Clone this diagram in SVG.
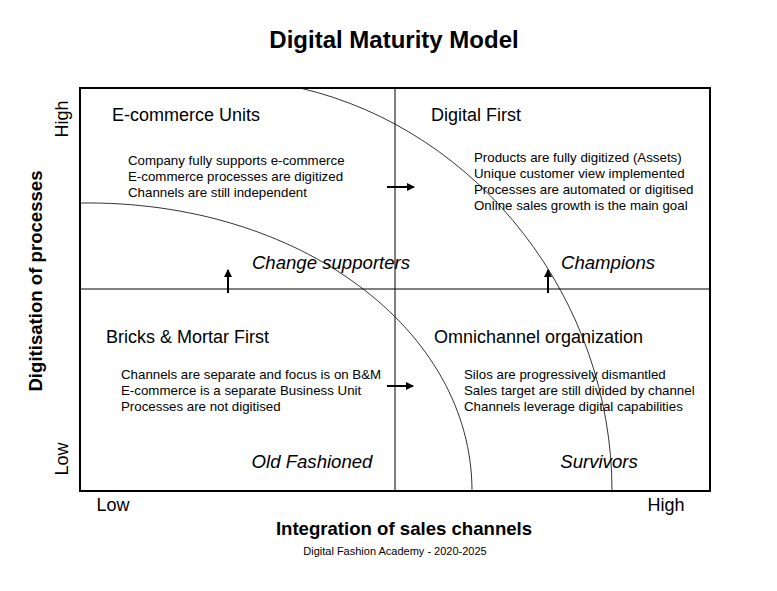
<svg xmlns="http://www.w3.org/2000/svg" width="777" height="591" viewBox="0 0 777 591">
<style>
text{font-family:"Liberation Sans",Arial,sans-serif;fill:#000}
.t{font-size:18px}.b{font-size:13.3px}.i{font-size:18.6px;font-style:italic}
.ln{stroke:#000;fill:none}
</style>
<defs><marker id="a" markerWidth="8" markerHeight="8" refX="7" refY="4" orient="auto" markerUnits="userSpaceOnUse"><path d="M0,0 L8,4 L0,8 Z"/></marker></defs>
<rect width="777" height="591" fill="#fff"/>
<text x="394" y="48" text-anchor="middle" font-size="24" font-weight="bold">Digital Maturity Model</text>
<g id="frame"><rect x="80" y="88" width="630" height="403" class="ln" stroke-width="2"/>
<line x1="395" y1="88" x2="395" y2="491" class="ln"/><line x1="80" y1="289" x2="710" y2="289" class="ln"/></g>
<g id="connectors">
<path d="M300,88 C480,130 612,300 612,491" class="ln" stroke-width="0.8"/>
<path d="M80,203 C300,200 472,330 472,491" class="ln" stroke-width="0.8"/>
<line x1="387" y1="187" x2="414" y2="187" class="ln" stroke-width="2" marker-end="url(#a)"/>
<line x1="387" y1="386" x2="413" y2="386" class="ln" stroke-width="2" marker-end="url(#a)"/>
<line x1="228" y1="293" x2="228" y2="270" class="ln" stroke-width="2" marker-end="url(#a)"/>
<line x1="548" y1="293" x2="548" y2="270" class="ln" stroke-width="2" marker-end="url(#a)"/>
</g>
<g id="ecommerce"><text x="112" y="121" class="t">E-commerce Units</text>
<text x="128" y="165" class="b">Company fully supports e-commerce</text>
<text x="128" y="181" class="b">E-commerce processes are digitized</text>
<text x="128" y="197" class="b">Channels are still independent</text>
<text x="331" y="269" class="i" text-anchor="middle">Change supporters</text></g>
<g id="digital"><text x="431" y="121" class="t">Digital First</text>
<text x="474" y="162" class="b">Products are fully digitized (Assets)</text>
<text x="474" y="178" class="b">Unique customer view implemented</text>
<text x="474" y="194" class="b">Processes are automated or digitised</text>
<text x="474" y="210" class="b">Online sales growth is the main goal</text>
<text x="608" y="269" class="i" text-anchor="middle">Champions</text></g>
<g id="bricks"><text x="106" y="343" class="t">Bricks &amp; Mortar First</text>
<text x="121" y="379" class="b">Channels are separate and focus is on B&amp;M</text>
<text x="121" y="395" class="b">E-commerce is a separate Business Unit</text>
<text x="121" y="411" class="b">Processes are not digitised</text>
<text x="312" y="468" class="i" text-anchor="middle">Old Fashioned</text></g>
<g id="omni"><text x="434" y="343" class="t">Omnichannel organization</text>
<text x="464" y="379" class="b">Silos are progressively dismantled</text>
<text x="464" y="395" class="b">Sales target are still divided by channel</text>
<text x="464" y="411" class="b">Channels leverage digital capabilities</text>
<text x="599" y="468" class="i" text-anchor="middle">Survivors</text></g>
<g id="axes">
<text x="113" y="511" class="t" text-anchor="middle">Low</text>
<text x="666" y="511" class="t" text-anchor="middle">High</text>
<text x="404" y="535" text-anchor="middle" font-size="18.6" font-weight="bold">Integration of sales channels</text>
<text x="395" y="555" text-anchor="middle" font-size="11">Digital Fashion Academy - 2020-2025</text>
<text transform="translate(68,119) rotate(-90)" class="t" text-anchor="middle">High</text>
<text transform="translate(68,459) rotate(-90)" class="t" text-anchor="middle">Low</text>
<text transform="translate(42,281) rotate(-90)" text-anchor="middle" font-size="18.6" font-weight="bold">Digitisation of processes</text>
</g>
</svg>
